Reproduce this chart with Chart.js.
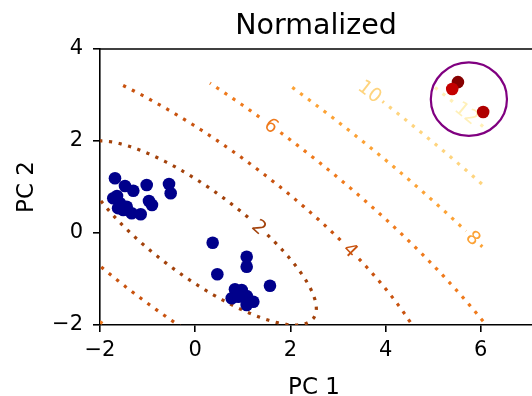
<!DOCTYPE html>
<html>
<head>
<meta charset="utf-8">
<script src="https://cdn.jsdelivr.net/npm/chart.js@4.4.0/dist/chart.umd.min.js"></script>
<style>
  html, body { margin: 0; padding: 0; background: #fff; overflow: hidden; }
  #wrap { width: 532px; height: 396px; }
</style>
</head>
<body>
<div id="wrap"><canvas id="c" width="532" height="396"></canvas></div>
<script>
// PCA scores of the reference group
const groupPC1 = [-1.685, -1.475, -1.300, -1.019, -0.550, -0.515, -0.971, -0.908, -1.721, -1.580,
                  -1.511, -1.334, -1.145, -1.643, -1.439, -1.620,
                   0.367,  1.082,  1.082,  0.465,  1.571,  0.836,  0.977,  0.767,  1.082,  1.221,
                   1.082,  0.906];
const groupPC2 = [ 1.189,  1.022,  0.920,  1.043,  1.065,  0.863,  0.696,  0.609,  0.754,  0.646,
                   0.500,  0.428,  0.407,  0.804,  0.572,  0.540,
                  -0.211, -0.515, -0.733, -0.898, -1.146, -1.224, -1.239, -1.420, -1.370, -1.493,
                  -1.565, -1.385];

// flagged samples
const flaggedPC1 = [5.52, 5.40, 6.05];
const flaggedPC2 = [3.28, 3.13, 2.63];

// Mahalanobis distance levels and the metric they are measured in
const levels = [2, 4, 6, 8, 10, 12];
const metricCentre = [0.06, 0.0];
const metricInvCov = [[1.99, 2.03], [2.03, 3.07]];
// upper bounds of the evaluated distance grid
const gridMax = [6.05, 3.26];
// where each level's inline label sits (PC1, PC2)
const labelPC1 = [1.40, 3.25, 1.61, 5.84, 3.71, 5.71];
const labelPC2 = [0.13, -0.37, 2.35, -0.11, 3.11, 2.61];

// ring around the flagged samples
const ringCentre = [5.75, 2.91];
const ringRadius = 0.80;

const xTicks = [-2, 0, 2, 4, 6];
const yTicks = [-2, 0, 2, 4];

// ---- styles ----
const levelColors = ['#a3420b', '#c9530f', '#ef7a1c', '#fca235', '#fed47e', '#fff0b8'];
const flaggedColors = ['#860000', '#c40000', '#b00000'];
const FONT = "'DejaVu Sans', sans-serif";

// principal axes of the metric
function axesOf(M) {
  const a = M[0][0], b = M[0][1], c = M[1][1];
  const m = (a + c) / 2, r = Math.sqrt(((a - c) / 2) ** 2 + b * b);
  const l1 = m - r, l2 = m + r;
  let v1 = [b, l1 - a];
  const n = Math.hypot(v1[0], v1[1]);
  v1 = [v1[0] / n, v1[1] / n];
  const v2 = [-v1[1], v1[0]];
  return { l1, l2, v1, v2 };
}
const AX = axesOf(metricInvCov);

function quad(dx, dy) {
  const M = metricInvCov;
  return M[0][0] * dx * dx + 2 * M[0][1] * dx * dy + M[1][1] * dy * dy;
}

// iso-distance curve for level d, cut where the grid ends
function isoLine(d) {
  const N = 1440, raw = [];
  for (let i = 0; i < N; i++) {
    const t = 2 * Math.PI * i / N;
    const ca = Math.cos(t) / Math.sqrt(AX.l1), sb = Math.sin(t) / Math.sqrt(AX.l2);
    raw.push([metricCentre[0] + d * (ca * AX.v1[0] + sb * AX.v2[0]),
              metricCentre[1] + d * (ca * AX.v1[1] + sb * AX.v2[1])]);
  }
  let k = 0;
  raw.forEach((p, i) => { if (p[0] < raw[k][0]) k = i; });
  const ring = raw.slice(k).concat(raw.slice(0, k + 1));
  return ring.map(p => ({ x: p[0], y: (p[0] > gridMax[0] || p[1] > gridMax[1]) ? null : p[1] }));
}

const contourSets = levels.map((d, i) => ({
  type: 'line',
  label: 'd = ' + d,
  data: isoLine(d),
  borderColor: levelColors[i],
  borderWidth: 3.2,
  borderDash: [3.2, 6.6],
  borderCapStyle: 'butt',
  pointRadius: 0,
  fill: false,
  spanGaps: false,
  tension: 0,
  clip: 0,
  order: 10,
  levelIndex: i
}));

const groupSet = {
  type: 'scatter',
  label: 'group',
  data: groupPC1.map((x, i) => ({ x, y: groupPC2[i] })),
  backgroundColor: '#00008b',
  borderWidth: 0,
  pointRadius: 6.3,
  order: 2
};
const flaggedSet = {
  type: 'scatter',
  label: 'flagged',
  data: flaggedPC1.map((x, i) => ({ x, y: flaggedPC2[i] })),
  backgroundColor: flaggedColors,
  borderWidth: 0,
  pointRadius: 6.3,
  order: 1
};

const minus = v => (v < 0 ? '\u2212' + Math.abs(v) : String(v));

// inline labels on the iso-distance curves
const levelLabels = {
  id: 'levelLabels',
  afterDatasetDraw(chart, args) {
    const ds = chart.data.datasets[args.index];
    if (ds.levelIndex === undefined) return;
    const i = ds.levelIndex, d = levels[i];
    const xs = chart.scales.x, ys = chart.scales.y;
    let dx = labelPC1[i] - metricCentre[0], dy = labelPC2[i] - metricCentre[1];
    const s = d / Math.sqrt(quad(dx, dy));
    dx *= s; dy *= s;
    const px = xs.getPixelForValue(metricCentre[0] + dx);
    const py = ys.getPixelForValue(metricCentre[1] + dy);
    const M = metricInvCov;
    const gx = M[0][0] * dx + M[0][1] * dy, gy = M[0][1] * dx + M[1][1] * dy;
    const kx = Math.abs(xs.getPixelForValue(1) - xs.getPixelForValue(0));
    const ky = Math.abs(ys.getPixelForValue(1) - ys.getPixelForValue(0));
    // tangent direction on screen
    let ang = Math.atan2(-gx * ky, -gy * kx);
    if (ang > Math.PI / 2) ang -= Math.PI;
    if (ang < -Math.PI / 2) ang += Math.PI;
    const ctx = chart.ctx;
    ctx.save();
    ctx.translate(px, py);
    ctx.rotate(ang);
    ctx.font = '19px ' + FONT;
    const txt = String(d);
    const w = ctx.measureText(txt).width;
    ctx.fillStyle = '#fff';
    ctx.fillRect(-w / 2 - 4, -9, w + 8, 18);
    ctx.fillStyle = levelColors[i];
    ctx.textAlign = 'center';
    ctx.textBaseline = 'middle';
    ctx.fillText(txt, 0, 1);
    ctx.restore();
  }
};

// frame, ring and titles
const decorations = {
  id: 'decorations',
  afterDatasetsDraw(chart) {
    const { ctx, chartArea: a, scales: { x, y } } = chart;
    ctx.save();
    // top spine
    ctx.strokeStyle = '#000';
    ctx.lineWidth = 1.6;
    ctx.beginPath();
    ctx.moveTo(a.left - 0.8, a.top);
    ctx.lineTo(a.right, a.top);
    ctx.stroke();
    // ring
    const cx = x.getPixelForValue(ringCentre[0]), cy = y.getPixelForValue(ringCentre[1]);
    const rx = Math.abs(x.getPixelForValue(ringCentre[0] + ringRadius) - cx);
    const ry = Math.abs(y.getPixelForValue(ringCentre[1] + ringRadius) - cy);
    ctx.strokeStyle = '#800080';
    ctx.lineWidth = 2.2;
    ctx.beginPath();
    ctx.ellipse(cx, cy, rx, ry, 0, 0, 2 * Math.PI);
    ctx.stroke();
    // titles
    ctx.fillStyle = '#000';
    ctx.textAlign = 'center';
    ctx.textBaseline = 'alphabetic';
    ctx.font = '28.5px ' + FONT;
    ctx.fillText('Normalized', 316, 34);
    ctx.font = '23px ' + FONT;
    ctx.fillText('PC 1', 314, 394);
    ctx.translate(33, 187);
    ctx.rotate(-Math.PI / 2);
    ctx.fillText('PC 2', 0, 0);
    ctx.restore();
  }
};

new Chart(document.getElementById('c'), {
  data: { datasets: [...contourSets, groupSet, flaggedSet] },
  options: {
    responsive: false,
    animation: false,
    devicePixelRatio: 1,
    layout: { autoPadding: false, padding: { top: 49, right: 0, left: 0, bottom: 0 } },
    plugins: { legend: { display: false }, tooltip: { enabled: false }, title: { display: false } },
    scales: {
      x: {
        type: 'linear',
        min: -2, max: 7.076,
        afterBuildTicks: s => { s.ticks = xTicks.map(v => ({ value: v })); },
        afterFit: s => { s.height = 71; s.paddingLeft = 0; s.paddingRight = 0; },
        ticks: { callback: v => minus(v), color: '#000', font: { family: FONT, size: 21 }, padding: 6, maxRotation: 0 },
        grid: { drawOnChartArea: false, drawTicks: true, tickLength: 7, color: '#000', lineWidth: 1.6 },
        border: { display: true, color: '#000', width: 1.6 }
      },
      y: {
        type: 'linear',
        min: -2, max: 4,
        afterBuildTicks: s => { s.ticks = yTicks.map(v => ({ value: v })); },
        afterFit: s => { s.width = 100; s.paddingTop = 0; s.paddingBottom = 0; },
        ticks: { callback: v => minus(v), color: '#000', font: { family: FONT, size: 21 }, padding: 10 },
        grid: { drawOnChartArea: false, drawTicks: true, tickLength: 7, color: '#000', lineWidth: 1.6 },
        border: { display: true, color: '#000', width: 1.6 }
      }
    }
  },
  plugins: [levelLabels, decorations]
});
</script>
</body>
</html>
